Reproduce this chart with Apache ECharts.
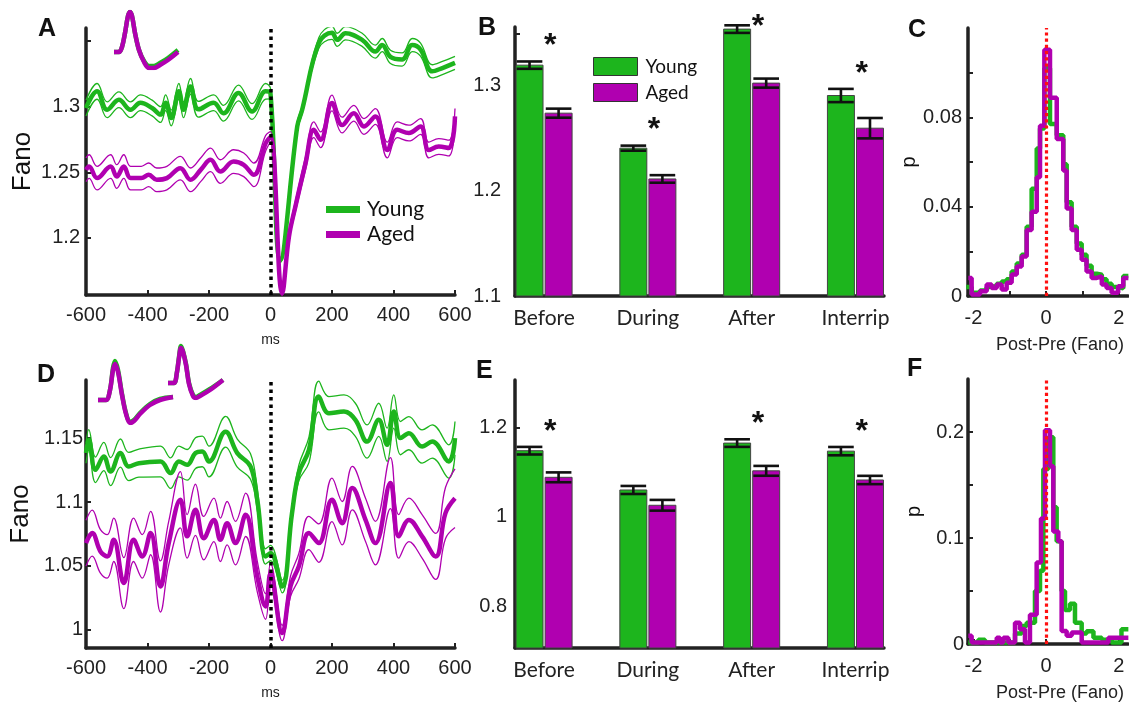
<!DOCTYPE html>
<html><head><meta charset="utf-8">
<script src="https://cdn.jsdelivr.net/npm/echarts@6/dist/echarts.min.js"></script>
<style>html,body{margin:0;padding:0;background:#fff}#c{width:1129px;height:703px}</style>
</head><body><div id="c"></div>
<script>
// ---------------- DATA ----------------
// Panel A: [time ms, mean Fano, sem]
const aYoung = [[-600,1.299,0.006],[-564,1.3117,0.006],[-531,1.2977,0.006],[-493,1.3053,0.006],[-455,1.2977,0.006],[-423,1.303,0.006],[-385,1.299,0.006],[-358,1.294,0.006],[-341,1.303,0.006],[-323,1.2914,0.006],[-298,1.3117,0.006],[-283,1.2977,0.006],[-260,1.3155,0.006],[-234,1.298,0.006],[-185,1.303,0.006],[-153,1.295,0.006],[-104,1.3105,0.006],[-60,1.2964,0.006],[-16,1.3117,0.006],[0,1.31,0.004],[32,1.1832,0.002],[87,1.285,0.003],[103,1.2977,0.003],[157,1.3486,0.004],[200,1.3563,0.005],[217,1.351,0.005],[244,1.356,0.005],[298,1.351,0.005],[341,1.342,0.005],[363,1.347,0.005],[390,1.338,0.005],[428,1.336,0.005],[461,1.347,0.005],[488,1.3435,0.005],[526,1.327,0.005],[559,1.3295,0.005],[600,1.3334,0.005]];
const aAged = [[-600,1.2519,0.009],[-590,1.2544,0.009],[-564,1.2456,0.009],[-520,1.2544,0.009],[-500,1.2468,0.009],[-477,1.2544,0.009],[-455,1.2456,0.009],[-420,1.2456,0.009],[-396,1.2481,0.009],[-370,1.2443,0.009],[-337,1.2456,0.009],[-293,1.2532,0.009],[-260,1.2443,0.009],[-225,1.2525,0.009],[-195,1.2595,0.009],[-163,1.2506,0.009],[-120,1.2582,0.009],[-87,1.2557,0.009],[-54,1.2481,0.009],[-16,1.272,0.006],[0,1.277,0.004],[38,1.1578,0.002],[60,1.201,0.003],[81,1.224,0.004],[114,1.257,0.005],[141,1.2824,0.006],[163,1.2748,0.006],[200,1.3028,0.006],[233,1.286,0.006],[271,1.295,0.006],[304,1.285,0.006],[341,1.2926,0.006],[380,1.267,0.006],[412,1.2824,0.006],[450,1.2799,0.006],[488,1.285,0.006],[515,1.267,0.006],[547,1.2697,0.006],[580,1.2685,0.006],[600,1.2926,0.006]];
// Panel D
const dYoung = [[-600,1.1383,0.008],[-591,1.1487,0.008],[-569,1.1252,0.01],[-542,1.1356,0.011],[-520,1.1238,0.011],[-488,1.1383,0.011],[-461,1.1278,0.011],[-428,1.1304,0.011],[-358,1.1317,0.012],[-325,1.1226,0.012],[-298,1.1317,0.012],[-271,1.1291,0.012],[-244,1.1383,0.012],[-222,1.1396,0.012],[-200,1.1317,0.012],[-146,1.155,0.012],[-108,1.1383,0.011],[-65,1.1278,0.01],[-43,1.1017,0.008],[-16,1.0574,0.006],[0,1.06,0.006],[38,1.0339,0.005],[70,1.0913,0.005],[92,1.1226,0.006],[125,1.1408,0.01],[157,1.1826,0.012],[190,1.1695,0.013],[239,1.1708,0.013],[276,1.1643,0.013],[314,1.1473,0.013],[352,1.1643,0.013],[379,1.1448,0.013],[401,1.1708,0.013],[423,1.15,0.013],[450,1.1539,0.013],[493,1.1434,0.013],[526,1.1473,0.013],[580,1.1317,0.013],[600,1.15,0.013]];
const dAged = [[-600,1.0678,0.018],[-580,1.0757,0.018],[-553,1.0613,0.017],[-531,1.0574,0.017],[-510,1.0704,0.017],[-477,1.0365,0.02],[-445,1.0704,0.017],[-417,1.0574,0.017],[-390,1.0757,0.017],[-358,1.0339,0.02],[-331,1.0678,0.017],[-293,1.1017,0.022],[-271,1.0731,0.017],[-244,1.0939,0.02],[-217,1.0717,0.017],[-184,1.086,0.017],[-163,1.0704,0.017],[-141,1.0834,0.017],[-114,1.0678,0.017],[-81,1.09,0.017],[-43,1.0417,0.012],[-16,1.0182,0.01],[0,1.044,0.008],[38,0.9974,0.006],[65,1.034,0.008],[92,1.0495,0.01],[125,1.0757,0.013],[157,1.0678,0.015],[200,1.1017,0.017],[233,1.0834,0.017],[266,1.1109,0.017],[309,1.086,0.017],[341,1.0678,0.017],[390,1.1148,0.02],[417,1.0731,0.017],[450,1.086,0.017],[493,1.0731,0.017],[537,1.0574,0.018],[569,1.0913,0.02],[600,1.103,0.023]];

// Panels B & E: bar means and error bars
const barCats = ['Before','During','After','Interrip'];
const bYoung = [1.3197,1.2407,1.354,1.2908];
const bYoungErr = [0.0035,0.0024,0.0036,0.0063];
const bAged = [1.274,1.2114,1.3026,1.2597];
const bAgedErr = [0.0043,0.0036,0.0043,0.0097];
const bSig = [true,true,true,true];
const eYoung = [1.148,1.0602,1.165,1.147];
const eYoungErr = [0.0085,0.009,0.0085,0.0093];
const eAged = [1.0885,1.026,1.103,1.0825];
const eAgedErr = [0.011,0.012,0.011,0.0093];
const eSig = [true,false,true,true];

// Panels C & F: step histograms [left bin edge, p]
const cYoung = [[-2.2,0.004],[-2.05,0.0015],[-1.82,0.0025],[-1.637,0.004],[-1.5,0.0045],[-1.36,0.0055],[-1.224,0.0065],[-1.087,0.0075],[-0.95,0.011],[-0.81,0.0145],[-0.674,0.0185],[-0.537,0.031],[-0.4,0.048],[-0.26,0.066],[-0.17,0.075],[-0.05,0.102],[0.105,0.077],[0.29,0.072],[0.47,0.059],[0.564,0.042],[0.7,0.031],[0.84,0.0235],[0.976,0.0185],[1.11,0.0135],[1.25,0.01],[1.39,0.0095],[1.53,0.0075],[1.66,0.0055],[1.8,0.004],[1.98,0.0035],[2.12,0.009],[2.26,0.009]];
const cAged = [[-2.142,0.0081],[-2.05,0.0007],[-1.82,0.0021],[-1.637,0.0051],[-1.5,0.0036],[-1.36,0.0051],[-1.224,0.0029],[-1.087,0.0059],[-0.95,0.0096],[-0.81,0.0132],[-0.674,0.0177],[-0.537,0.0296],[-0.4,0.0377],[-0.26,0.0532],[-0.17,0.0762],[-0.05,0.1103],[0.105,0.0888],[0.29,0.0703],[0.47,0.0562],[0.564,0.0392],[0.7,0.0296],[0.84,0.0207],[0.976,0.0162],[1.11,0.011],[1.25,0.0081],[1.39,0.0088],[1.53,0.0051],[1.66,0.0036],[1.8,0.0014],[1.98,0.0044],[2.12,0.0081],[2.26,0.0081]];
const fYoung = [[-2.142,0.0015],[-1.867,0.004],[-1.683,0.0015],[-0.857,0.01],[-0.674,0.017],[-0.537,0.02],[-0.308,0.05],[-0.17,0.069],[-0.078,0.165],[0.059,0.195],[0.196,0.129],[0.288,0.097],[0.425,0.05],[0.517,0.032],[0.655,0.038],[0.792,0.02],[0.976,0.01],[1.11,0.012],[1.3,0.006],[1.53,0.004],[1.8,0.0015],[2.07,0.014],[2.26,0.014]];
const fAged = [[-2.142,0.0077],[-2.05,0.0015],[-1.36,0.006],[-1.27,0.0015],[-1.178,0.006],[-1.04,0.0015],[-0.857,0.02],[-0.72,0.0138],[-0.583,0.0015],[-0.446,0.0277],[-0.262,0.0769],[-0.143,0.1185],[-0.033,0.2016],[0.105,0.1677],[0.196,0.1062],[0.334,0.097],[0.425,0.0123],[0.563,0.0077],[0.7,0.0108],[0.976,0.0015],[1.71,0.006],[2.26,0.006]];

// Spike waveform insets (sample index, amplitude, arbitrary units)
const waveA_T = [0,5,8,11,14,16,18,21,25,30,35,40,46,54,64];
const waveA_Young = [0,0,5,19,36,40,36,19,2,-9,-14,-14,-11,-6,2];
const waveA_Aged = [0,0,5,19,36,40,36,19,2,-10,-16,-16,-13,-8,0];
const waveD1_T = [0,8,12,15,17,20,24,28,32,36,42,52,62,75];
const waveD1_Young = [0,0,10,32,39,30,6,-13,-22,-20,-13,-4,1,3];
const waveD1_Aged = [0,0,10,30,36,28,5,-14,-23,-21,-14,-5,0,3];
const waveD2_T = [0,6,9,11,13,15,18,21,25,28,32,42,55];
const waveD2_Young = [0,0,11,26,37,32,19,0,-12,-14,-12,-6,3];
const waveD2_Aged = [0,0,11,25,35,31,18,-1,-13,-15,-13,-7,3];

// ---------------- STYLE ----------------
const GREEN = '#1db51d', MAG = '#b000b0', AX = '#222';
const TF = 'Liberation Sans, Arial, sans-serif';
const tickFont = {fontFamily: TF, fontSize: 20, color: '#222'};
const fmt = v => String(parseFloat((+v).toFixed(3)));

function axis(gi, extra) {
  const base = {
    gridIndex: gi, type: 'value',
    axisLine: {show: true, onZero: false, lineStyle: {color: AX, width: 3.5}},
    axisTick: {show: true, inside: true, length: 5, lineStyle: {color: AX, width: 2}},
    splitLine: {show: false},
    axisLabel: Object.assign({}, tickFont)
  };
  const o = Object.assign(base, extra);
  if (extra.axisLabel) o.axisLabel = Object.assign({}, tickFont, extra.axisLabel);
  if (extra.axisTick) o.axisTick = Object.assign({show: true, inside: true, length: 5, lineStyle: {color: AX, width: 2}}, extra.axisTick);
  return o;
}
function hidden(gi, min, max) {
  return {gridIndex: gi, type: 'value', min, max, show: false, splitLine: {show: false}};
}

const grids = [
  {left: 86, top: 28, width: 369, height: 267},   // A
  {left: 515, top: 27, width: 369, height: 269},  // B
  {left: 968, top: 28, width: 160, height: 268},  // C
  {left: 86, top: 380, width: 369, height: 268},  // D
  {left: 515, top: 380, width: 369, height: 268}, // E
  {left: 968, top: 379, width: 160, height: 269}, // F
  {left: 114, top: 12, width: 64, height: 56},    // inset A
  {left: 98, top: 360, width: 75, height: 63},    // inset D1
  {left: 168, top: 345, width: 55, height: 53}    // inset D2
];

const yName = (t, gap, size) => ({name: t, nameLocation: 'middle', nameGap: gap, nameTextStyle: {fontFamily: TF, fontSize: size, color: '#111'}});

const xAxes = [
  axis(0, {min: -600, max: 600, interval: 200, axisLabel: {margin: 10}, name: 'ms', nameLocation: 'middle', nameGap: 38, nameTextStyle: {fontFamily: TF, fontSize: 14, color: '#222'}}),
  axis(1, {min: 0.72, max: 4.275, axisLabel: {margin: 12, fontFamily: 'Lato, sans-serif', fontSize: 21, customValues: [1,2,3,4], formatter: v => barCats[Math.round(v) - 1]}, axisTick: {show: false}}),
  axis(2, {min: -2.15, max: 2.25, axisLabel: {margin: 12, customValues: [-2,0,2], formatter: fmt}, axisTick: {customValues: [-2,-1,0,1,2]}, name: 'Post-Pre (Fano)', nameLocation: 'middle', nameGap: 40, nameTextStyle: {fontFamily: TF, fontSize: 18, color: '#222', padding: [0,0,0,24]}}),
  axis(3, {min: -600, max: 600, interval: 200, axisLabel: {margin: 10}, name: 'ms', nameLocation: 'middle', nameGap: 38, nameTextStyle: {fontFamily: TF, fontSize: 14, color: '#222'}}),
  axis(4, {min: 0.72, max: 4.275, axisLabel: {margin: 12, fontFamily: 'Lato, sans-serif', fontSize: 21, customValues: [1,2,3,4], formatter: v => barCats[Math.round(v) - 1]}, axisTick: {show: false}}),
  axis(5, {min: -2.15, max: 2.25, axisLabel: {margin: 12, customValues: [-2,0,2], formatter: fmt}, axisTick: {customValues: [-2,-1,0,1,2]}, name: 'Post-Pre (Fano)', nameLocation: 'middle', nameGap: 40, nameTextStyle: {fontFamily: TF, fontSize: 18, color: '#222', padding: [0,0,0,24]}}),
  hidden(6, 0, 64), hidden(7, 0, 75), hidden(8, 0, 55)
];
const yAxes = [
  axis(0, Object.assign({min: 1.1565, max: 1.36, axisLabel: {margin: 6, customValues: [1.2,1.25,1.3], formatter: fmt}, axisTick: {customValues: [1.2,1.25,1.3,1.35]}}, yName('Fano', 50, 26))),
  axis(1, {min: 1.1, max: 1.356, axisLabel: {margin: 14, customValues: [1.1,1.2,1.3], formatter: fmt}, axisTick: {customValues: [1.1,1.2,1.3,1.35]}}),
  axis(2, Object.assign({min: 0, max: 0.12, axisLabel: {margin: 6, customValues: [0,0.04,0.08], formatter: fmt}, axisTick: {customValues: [0,0.02,0.04,0.06,0.08,0.1]}}, yName('p', 44, 20))),
  axis(3, Object.assign({min: 0.9857, max: 1.1955, axisLabel: {margin: 3, customValues: [1,1.05,1.1,1.15], formatter: fmt}, axisTick: {customValues: [1,1.05,1.1,1.15]}}, yName('Fano', 52, 26))),
  axis(4, {min: 0.707, max: 1.306, axisLabel: {margin: 8, customValues: [0.8,1,1.2], formatter: fmt}, axisTick: {customValues: [0.8,0.9,1,1.1,1.2]}}),
  axis(5, Object.assign({min: 0, max: 0.25, axisLabel: {margin: 4, customValues: [0,0.1,0.2], formatter: fmt}, axisTick: {customValues: [0,0.05,0.1,0.15,0.2]}}, yName('p', 44, 20))),
  hidden(6, -16, 40), hidden(7, -23, 40), hidden(8, -15, 38)
];

const series = [];
function traces(data, color, gi, name, dotted) {
  const common = {type: 'line', xAxisIndex: gi, yAxisIndex: gi, symbol: 'none', smooth: 0.4, silent: true};
  series.push(Object.assign({}, common, {name: name + ' upper', data: data.map(d => [d[0], d[1] + d[2]]), lineStyle: {color, width: 1.3}}));
  series.push(Object.assign({}, common, {name: name + ' lower', data: data.map(d => [d[0], d[1] - d[2]]), lineStyle: {color, width: 1.3}}));
  const mean = Object.assign({}, common, {name: name, data: data.map(d => [d[0], d[1]]), lineStyle: {color, width: 4.5}, itemStyle: {color}});
  if (dotted) {
    mean.z = 4;
    mean.markLine = {silent: true, symbol: ['none','none'], label: {show: false}, animation: false,
      lineStyle: {color: '#000', width: 3.5, type: [3.5, 4]}, data: [{xAxis: 0}]};
  }
  series.push(mean);
}
traces(aYoung, GREEN, 0, 'Young', false);
traces(aAged, MAG, 0, 'Aged', true);
traces(dYoung, GREEN, 3, 'Young D', false);
traces(dAged, MAG, 3, 'Aged D', true);

const BAR_W = 0.26, OFF = 0.14;
function bars(vals, errs, color, gi, offset, yMin, name) {
  series.push({
    type: 'custom', name, xAxisIndex: gi, yAxisIndex: gi, silent: true,
    data: vals.map((v, i) => [i + 1, v, errs[i]]),
    encode: {x: 0, y: 1},
    renderItem: (params, api) => {
      const x = api.value(0) + offset, v = api.value(1), e = api.value(2);
      const top = api.coord([x, v]), base = api.coord([x, yMin]);
      const hi = api.coord([x, v + e]), lo = api.coord([x, v - e]);
      const w = api.size([BAR_W, 0])[0];
      const cw = w * 0.95;
      const ls = {stroke: '#111', lineWidth: 2.6};
      return {type: 'group', children: [
        {type: 'rect', shape: {x: top[0] - w / 2, y: top[1], width: w, height: base[1] - top[1]}, style: {fill: color, stroke: '#444', lineWidth: 1}},
        {type: 'line', shape: {x1: top[0], y1: hi[1], x2: top[0], y2: lo[1]}, style: ls},
        {type: 'line', shape: {x1: top[0] - cw / 2, y1: hi[1], x2: top[0] + cw / 2, y2: hi[1]}, style: ls},
        {type: 'line', shape: {x1: top[0] - cw / 2, y1: lo[1], x2: top[0] + cw / 2, y2: lo[1]}, style: ls}
      ]};
    }
  });
}
function stars(sig, y1, e1, y2, e2, gi, yMax) {
  series.push({
    type: 'custom', name: 'sig', xAxisIndex: gi, yAxisIndex: gi, silent: true,
    data: sig.map((s, i) => [i + 1, Math.max(y1[i] + e1[i], y2[i] + e2[i]), s ? 1 : 0]),
    renderItem: (params, api) => {
      if (!api.value(2)) return null;
      const p = api.coord([api.value(0) + 0.06, api.value(1)]);
      const topLim = api.coord([api.value(0), yMax])[1] - 7;
      const y = Math.max(p[1] - 22, topLim);
      return {type: 'text', x: p[0], y: y + 7, style: {text: '*', fontFamily: TF, fontWeight: 'bold', fontSize: 32, fill: '#111', align: 'center', verticalAlign: 'middle'}};
    }
  });
}
bars(bYoung, bYoungErr, GREEN, 1, -OFF, 1.1, 'Young');
bars(bAged, bAgedErr, MAG, 1, OFF, 1.1, 'Aged');
stars(bSig, bYoung, bYoungErr, bAged, bAgedErr, 1, 1.356);
bars(eYoung, eYoungErr, GREEN, 4, -OFF, 0.707, 'Young');
bars(eAged, eAgedErr, MAG, 4, OFF, 0.707, 'Aged');
stars(eSig, eYoung, eYoungErr, eAged, eAgedErr, 4, 1.306);

function hist(data, color, gi, name, red) {
  const s = {type: 'line', name, step: 'end', xAxisIndex: gi, yAxisIndex: gi, symbol: 'none', silent: true, data, lineStyle: {color, width: 4.5}};
  if (red) {
    s.z = 4;
    s.markLine = {silent: true, symbol: ['none','none'], label: {show: false}, animation: false,
      lineStyle: {color: '#ff1010', width: 3.2, type: [3.2, 3]}, data: [{xAxis: 0}]};
  }
  series.push(s);
}
hist(cYoung, GREEN, 2, 'Young C', false);
hist(cAged, MAG, 2, 'Aged C', true);
hist(fYoung, GREEN, 5, 'Young F', false);
hist(fAged, MAG, 5, 'Aged F', true);

function wave(T, A, color, gi, name) {
  series.push({type: 'line', name, xAxisIndex: gi, yAxisIndex: gi, symbol: 'none', smooth: 0.35, silent: true,
    data: T.map((t, i) => [t, A[i]]), lineStyle: {color, width: 4.5}});
}
wave(waveA_T, waveA_Young, GREEN, 6, 'wA y');
wave(waveA_T, waveA_Aged, MAG, 6, 'wA a');
wave(waveD1_T, waveD1_Young, GREEN, 7, 'wD1 y');
wave(waveD1_T, waveD1_Aged, MAG, 7, 'wD1 a');
wave(waveD2_T, waveD2_Young, GREEN, 8, 'wD2 y');
wave(waveD2_T, waveD2_Aged, MAG, 8, 'wD2 a');

const letters = [['A',38,29],['B',478,28],['C',908,30],['D',37,375],['E',476,371],['F',907,369]];

const option = {
  animation: false,
  backgroundColor: '#fff',
  grid: grids,
  xAxis: xAxes,
  yAxis: yAxes,
  legend: [
    {left: 326, top: 199, orient: 'vertical', itemWidth: 34, itemHeight: 7, itemGap: 4, icon: 'rect', padding: 0, selectedMode: false,
     textStyle: {fontFamily: 'Lato, sans-serif', fontSize: 21, color: '#111', lineHeight: 21, padding: [0,0,0,2]},
     data: [{name: 'Young', itemStyle: {color: GREEN, borderWidth: 0}}, {name: 'Aged', itemStyle: {color: MAG, borderWidth: 0}}]},
    {left: 593, top: 57, orient: 'vertical', itemWidth: 44, itemHeight: 18, itemGap: 7, icon: 'rect', padding: 0, selectedMode: false,
     textStyle: {fontFamily: 'Lato, sans-serif', fontSize: 19, color: '#111', padding: [0,0,0,3]},
     data: [{name: 'Young', itemStyle: {color: GREEN, borderColor: '#333', borderWidth: 1}}, {name: 'Aged', itemStyle: {color: MAG, borderColor: '#333', borderWidth: 1}}]}
  ],
  graphic: letters.map(l => ({type: 'text', x: l[1], y: l[2], silent: true,
    style: {text: l[0], fontFamily: TF, fontWeight: 'bold', fontSize: 25, fill: '#111', align: 'left', verticalAlign: 'middle'}})),
  series
};
const chart = echarts.init(document.getElementById('c'));
chart.setOption(option);
</script></body></html>
